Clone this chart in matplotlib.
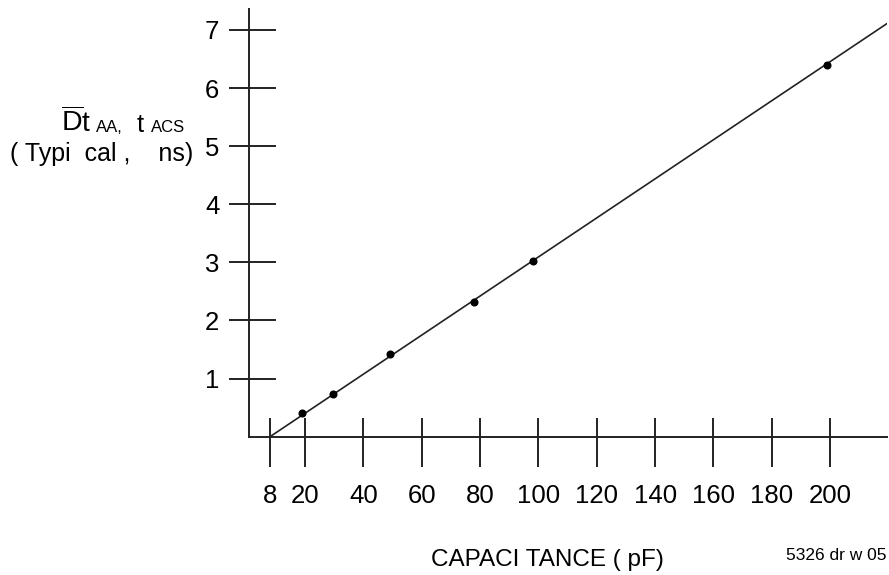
import matplotlib
matplotlib.use("Agg")
import matplotlib.pyplot as plt
from matplotlib.ticker import FixedLocator, NullFormatter

# ---- data ----
cap_pf = [19, 29.5, 49, 78, 98, 199]
t_ns = [0.40, 0.735, 1.42, 2.32, 3.02, 6.39]
fit_x = [8, 221]
fit_y = [0.0, 7.16]
x_ticks = [8, 20, 40, 60, 80, 100, 120, 140, 160, 180, 200]
x_tick_labels = ["8", "20", "40", "60", "80", "100", "120", "140", "160", "180", "200"]
y_ticks = [1, 2, 3, 4, 5, 6, 7]
y_tick_labels = ["1", "2", "3", "4", "5", "6", "7"]

plt.rcParams['font.family'] = ['Liberation Sans', 'DejaVu Sans']
plt.rcParams['mathtext.fontset'] = 'custom'
plt.rcParams['mathtext.rm'] = 'Liberation Sans'

W, H = 889, 575
DPI = 100
fig = plt.figure(figsize=(W / DPI, H / DPI), dpi=DPI)
fig.patch.set_facecolor('white')

def fx(px):
    return px / W

def fy(py):
    return 1 - py / H

ax_left, ax_right, ax_top, ax_bottom = 249, 887, 9, 436.7
ax = fig.add_axes([fx(ax_left), fy(ax_bottom), (ax_right - ax_left) / W, (ax_bottom - ax_top) / H])
ax.set_xlim(0.8, 219.5)
ax.set_ylim(0, 7.36)
ax.patch.set_alpha(0)

col = '#222222'
for s in ['top', 'right']:
    ax.spines[s].set_visible(False)
for s in ['left', 'bottom']:
    ax.spines[s].set_color(col)
    ax.spines[s].set_linewidth(1.4)

ax.plot(fit_x, fit_y, color=col, lw=1.2, solid_capstyle='butt')
ax.plot(cap_pf, t_ns, 'o', color='black', ms=4.8, zorder=3)

ax.xaxis.set_major_locator(FixedLocator(x_ticks))
ax.xaxis.set_minor_locator(FixedLocator(x_ticks))
ax.xaxis.remove_overlapping_locs = False
ax.set_xticklabels(x_tick_labels)
ax.xaxis.set_minor_formatter(NullFormatter())
ax.yaxis.set_major_locator(FixedLocator(y_ticks))
ax.yaxis.set_minor_locator(FixedLocator(y_ticks))
ax.yaxis.remove_overlapping_locs = False
ax.set_yticklabels(y_tick_labels)
ax.yaxis.set_minor_formatter(NullFormatter())

ax.tick_params(axis='x', which='major', direction='out', length=21.6, width=1.4,
               color=col, pad=12.5, labelsize=18.5, labelcolor='black')
ax.tick_params(axis='x', which='minor', direction='in', length=13.5, width=1.4, color=col)
ax.tick_params(axis='y', which='major', direction='out', length=14.4, width=1.4,
               color=col, pad=7, labelsize=18.5, labelcolor='black')
ax.tick_params(axis='y', which='minor', direction='in', length=19.4, width=1.4, color=col)

# y-axis caption (two lines, as drawn)
fig.text(fx(61), fy(131.7), r"$\overline{\mathrm{D}}\mathrm{t}$", fontsize=20.5, ha='left', va='baseline')
fig.text(fx(96), fy(131.7), "AA,", fontsize=12, ha='left', va='baseline')
fig.text(fx(137), fy(131.7), "t", fontsize=18.5, ha='left', va='baseline')
fig.text(fx(151), fy(131.7), "ACS", fontsize=12, ha='left', va='baseline')
fig.text(fx(193), fy(161), "( Typi  cal ,    ns)", fontsize=18, ha='right', va='baseline')

# x-axis caption and drawing id
fig.text(fx(547), fy(566), "CAPACI TANCE ( pF)", fontsize=17.5, ha='center', va='baseline')
fig.text(fx(887), fy(560), "5326 dr w 05", fontsize=12.5, ha='right', va='baseline')

fig.savefig("out.png", dpi=DPI, facecolor='white')
